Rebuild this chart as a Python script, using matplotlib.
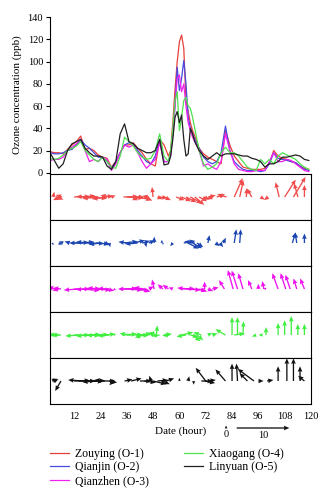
import matplotlib
matplotlib.use("Agg")
import matplotlib.pyplot as plt

plt.rcParams['font.family'] = 'Liberation Serif'
plt.rcParams['font.size'] = 7.5

# ozone, hourly-ish sampling (denser around the peak)
hours = list(range(1, 56, 2)) + list(range(56, 67)) + list(range(67, 120, 2))

zouying = [19, 18, 18, 17, 21, 25, 28, 33, 21, 22, 20, 16, 14, 13, 5, 10, 18, 25, 25, 27, 22, 18, 12, 8, 6, 30, 25, 15,
           20, 45, 75, 100, 118, 124, 112, 65, 55, 45, 38,
           33, 22, 17, 14, 12, 10, 8, 38, 25, 15, 10, 5, 4, 3, 3, 3, 4, 8, 20, 15, 13, 12, 10, 9, 6, 4, 3]
qianjin = [18, 17, 17, 18, 20, 21, 25, 30, 25, 22, 18, 14, 14, 10, 4, 10, 18, 25, 27, 26, 20, 15, 10, 8, 15, 30, 10, 10,
           18, 35, 60, 95, 74, 85, 101, 80, 50, 40, 35,
           30, 22, 14, 10, 8, 10, 18, 42, 20, 10, 6, 3, 2, 2, 2, 1, 2, 8, 18, 13, 12, 11, 10, 9, 6, 3, 2]
qianzhen = [11, 12, 12, 14, 20, 23, 26, 30, 20, 10, 12, 10, 14, 12, 2, 8, 18, 25, 23, 25, 18, 10, 4, 8, 12, 27, 10, 10,
            15, 35, 60, 85, 88, 73, 80, 60, 45, 38, 32,
            28, 20, 6, 8, 5, 3, 10, 35, 20, 8, 3, 2, 1, 1, 2, 2, 2, 10, 18, 10, 10, 12, 11, 8, 5, 2, 1]
xiaogang = [13, 12, 13, 16, 20, 22, 24, 28, 20, 16, 12, 10, 14, 10, 5, 4, 15, 32, 28, 24, 18, 14, 12, 13, 20, 35, 15, 10,
            20, 40, 65, 73, 38, 50, 65, 68, 60, 58, 50,
            40, 20, 8, 3, 5, 8, 18, 23, 18, 18, 15, 10, 5, 3, 2, 12, 8, 12, 8, 15, 18, 16, 14, 12, 8, 5, 3]
linyuan = [18, 11, 4, 8, 20, 26, 28, 30, 22, 18, 15, 15, 14, 6, 3, 10, 35, 44, 28, 26, 22, 20, 18, 18, 20, 30, 7, 8,
           15, 30, 50, 55, 45, 52, 30, 15, 17, 40, 35,
           28, 20, 15, 12, 15, 18, 15, 17, 17, 17, 16, 15, 15, 13, 12, 10, 5, 8, 8, 10, 14, 14, 15, 16, 15, 12, 11]

names = ["Zouying (O-1)", "Qianjin (O-2)", "Qianzhen (O-3)", "Xiaogang (O-4)", "Linyuan (O-5)"]
line_colors = ["#e8403c", "#4a4ae0", "#f020f0", "#50e050", "#202020"]
arrow_colors = ["#f04a4a", "#1a44b0", "#ee10ee", "#40ee40", "#111111"]

# wind vectors (hour, u, v in m/s) per station
h1 = [2.5, 4, 5.5, 6.5, 12, 14, 16, 19, 21, 23, 25, 27, 29, 30, 34.5, 36, 38, 40, 42, 44, 46, 48, 50, 51, 53,
      58.5, 61, 63, 65, 67, 69, 71, 73, 75, 77, 81.5, 85, 87.5, 90.5, 93, 97, 100.5, 105.5, 108, 112, 114, 117]
u1 = [0.2, 1.3, -1.3, -1.2, 3.0, 3.2, 2.8, -2.5, 2.5, -3.0, 2.0, -2.8, 0.8, -2.5, 2.8, 3.2, 2.5, 3.0, -1.5, 1.5, -1.2, -0.2, 1.0, 1.5, 1.3,
      1.6, 1.8, 2.0, 2.2, 1.8, 1.5, 1.2, 1.5, -1.0, 1.6, -1.8, 1.6, 0.7, 0.1, -0.9, 0.8, -0.8, -0.7, 2.1, 2.3, -0.7, 0.0]
v1 = [1.0, -0.5, -0.6, 0.4, 0.1, 0.2, 0.0, 0.1, -0.3, -0.3, 0.2, -0.4, 0.3, 0.3, 0.1, -0.2, 0.0, -0.5, -0.6, -0.7, 0.2, 1.9, -0.4, -0.2, -0.6,
      -0.6, -0.8, -1.0, -1.2, -1.5, -0.8, -0.5, 0.3, -0.4, 0.5, 0.5, 3.6, 3.2, 1.7, 1.6, -0.5, -0.6, 2.8, 3.3, 3.8, 2.6, 2.3]

h2 = [2, 5, 7, 10, 12, 14, 16, 18, 20, 22, 24, 26, 28, 35, 37, 39, 41, 43, 44.5, 46, 48.5, 52, 52.5, 57,
      62, 64, 66, 67, 68, 73, 76.5, 78.5, 80, 85, 87.5, 111.5, 113.5, 117]
u2 = [0.3, 0.6, -0.8, -1.0, 2.8, 3.0, -2.6, 3.2, -3.0, 2.5, -2.2, 1.0, 0.2, 2.5, -2.0, 2.2, -2.4, 1.5, 0.2, 1.2, 0.0, 0.0, 0.0, -0.5,
      2.2, 2.0, 1.8, -2.0, 1.2, 0.3, 0.8, 0.6, 0.5, 0.4, 0.2, 0.6, -0.3, 0.0]
v2 = [-0.4, -0.4, 0.3, 0.3, 0.1, 0.2, 0.0, -0.1, 0.2, -0.2, -0.3, -0.4, -0.8, 0.3, 0.2, 0.5, -0.2, 0.4, -0.8, 0.5, 1.2, 0.6, -0.4, -0.6,
      0.4, -1.1, -1.0, 0.3, -0.8, 1.5, -0.6, -0.8, 1.0, 2.6, 2.6, 2.0, 2.0, 1.8]

h3 = [3, 5, 6, 12, 14, 16, 18, 20, 22, 24, 26, 28, 30, 34, 36, 38, 40, 42, 44, 46, 48.5, 52.5, 55, 57,
      61, 63, 65, 67, 69, 71.5, 73, 75, 80.5, 84.5, 86.5, 89, 93, 96, 98.5, 99.5, 105, 108.5, 110.5, 113.5, 117]
u3 = [-1.2, -1.2, -1.5, 3.0, -2.8, 3.2, 2.5, -3.0, 2.8, -2.5, 1.8, -2.2, 0.5, 2.8, 3.0, -2.5, 2.6, 2.0, -2.0, 1.0, -0.4, -1.0, -1.1, -0.8,
      2.5, 2.8, -2.5, 2.2, 1.5, 0.0, 1.0, 1.2, -1.0, -1.0, -1.1, -0.9, -0.7, 0.0, -0.3, -0.5, -1.1, -1.0, -0.9, -0.6, -0.8]
v3 = [0.5, -0.3, 0.2, 0.0, -0.2, -0.3, 0.1, -0.1, -0.2, 0.2, -0.3, 0.1, -0.2, 0.1, -0.2, 0.0, -0.3, -0.5, 0.3, 0.5, 1.8, 0.9, 0.8, 0.3,
      0.1, -0.2, 0.2, -0.3, -0.5, 1.4, -0.4, 0.3, 1.7, 3.6, 3.5, 3.0, 1.7, 1.0, 1.5, 0.2, 3.0, 3.0, 2.7, 2.0, 2.0]

h4 = [2, 4, 6, 12, 14, 16, 18, 20, 22, 24, 26, 28, 30, 34, 36, 38, 40, 42, 44, 46, 47.5, 48, 49.5, 51, 53, 55,
      61, 63, 65, 66, 68, 70, 73, 75, 81, 84, 85, 86.5, 89, 95, 98, 99.5, 105, 108, 111, 114, 117]
u4 = [1.5, -1.5, -1.8, 3.0, -2.5, 3.2, 2.6, -3.0, 2.4, -2.6, 2.0, -2.2, 0.5, 2.8, 3.0, -2.2, 2.5, 2.2, -1.8, 1.2, 0.2, 0.1, 0.2, -1.5, 1.5, -1.2,
      2.2, -1.8, 1.5, 1.5, 1.2, -1.5, 0.8, 1.0, -1.9, 0.0, 2.0, 0.0, 0.1, -0.8, -0.8, 0.0, 0.0, 0.0, 0.0, 0.0, 0.0]
v4 = [0.0, 0.1, 0.0, 0.0, -0.2, -0.1, 0.1, -0.2, 0.1, -0.1, 0.2, -0.2, 0.1, 0.2, 0.1, 0.3, -0.1, 0.3, -0.5, 0.6, -0.4, 0.8, 1.8, -0.2, 0.2, -0.1,
      0.5, -0.3, -0.4, -1.2, -1.0, 0.5, 0.4, 0.3, 1.1, 3.4, 0.3, 3.4, 2.6, -0.3, 0.0, 1.5, 2.3, 2.8, 3.6, 2.1, 2.1]

h5 = [2, 4, 6, 12, 14, 16, 18, 20, 22, 24, 26, 28, 30, 35, 38, 42, 44, 47, 48, 50, 52, 54, 60, 64, 66.5,
      70, 71.5, 72, 73, 81, 84, 86.5, 91, 94, 96, 100, 105, 109, 112, 115, 117]
u5 = [1.2, -1.0, -1.1, 3.0, 3.2, -2.8, 3.0, 2.5, -2.6, 2.8, -2.0, 1.5, -0.8, 1.5, 2.0, 2.2, 2.2, -0.3, 2.5, 2.0, 1.5, 1.5, 0.0, 0.2, 0.0,
      2.2, 2.0, -1.9, 1.5, -1.9, 0.0, -0.2, -1.5, -3.1, 1.0, 1.2, 0.0, 0.0, 0.0, 0.0, -1.2]
v5 = [0.3, 0.4, -1.9, 0.1, 0.0, 0.2, -0.1, 0.1, -0.2, 0.0, 0.2, -0.3, -0.8, 0.3, 0.5, 0.0, -0.3, 1.0, -0.6, 0.2, -0.6, 0.5, 0.6, 0.9, -0.7,
      0.0, -0.4, 2.5, 0.2, 2.2, 3.3, 3.3, 1.5, 2.3, 0.0, 0.2, 2.8, 4.3, 4.3, 2.8, 1.0]

wind = [(h1, u1, v1), (h2, u2, v2), (h3, u3, v3), (h4, u4, v4), (h5, u5, v5)]
xticks = [12, 24, 36, 48, 60, 72, 84, 96, 108, 120]

fig = plt.figure(figsize=(3.3, 5.0), dpi=100)

# ozone panel
ax = fig.add_axes([0.1515, 0.6546, 0.7909, 0.3108])
series = [zouying, qianjin, qianzhen, xiaogang, linyuan]
for s, c, n in zip(series, line_colors, names):
    ax.plot(hours, s, color=c, lw=0.9, label=n)
ax.set_xlim(1, 120)
ax.set_ylim(0, 140)
ax.set_yticks(range(0, 141, 20))
ax.set_xticks([])
for sp in ['top', 'right', 'bottom']:
    ax.spines[sp].set_visible(False)
ax.spines['left'].set_linewidth(0.8)
ax.tick_params(axis='y', length=3, width=0.8, pad=2, labelsize=7.5)
ax.set_ylabel("Ozone concentration (ppb)", fontsize=8, labelpad=4)

# wind panels
scale = 10 / 24.0
q = None
for i, (hh, uu, vv) in enumerate(wind):
    wax = fig.add_axes([0.1515, 0.652 - 0.092 * (i + 1), 0.7909, 0.092])
    q = wax.quiver(hh, [0] * len(hh), uu, vv, color=arrow_colors[i], angles='uv',
                   scale_units='x', scale=scale, width=0.005, headwidth=3.6,
                   headlength=4.2, headaxislength=3.8)
    wax.set_xlim(1, 120)
    wax.set_ylim(-1, 1)
    wax.set_yticks([])
    for sp in wax.spines.values():
        sp.set_linewidth(0.8)
    if i < 4:
        wax.set_xticks([])
    else:
        wax.set_xticks(xticks)
        wax.tick_params(axis='x', length=0, pad=6, labelsize=7.5)
        wax.set_xlabel("Date (hour)", fontsize=8, labelpad=4)
        wax.quiverkey(q, X=0.797, Y=0.144, U=10, label='10', labelpos='S',
                      coordinates='figure', labelsep=0.03,
                      fontproperties={'family': 'Liberation Serif', 'size': 7.5})
        wax.quiverkey(q, X=0.685, Y=0.146, U=0.6, angle=90, label='0', labelpos='S',
                      coordinates='figure', labelsep=0.03,
                      fontproperties={'family': 'Liberation Serif', 'size': 7.5})

fig.legend(*ax.get_legend_handles_labels(), loc='upper left', bbox_to_anchor=(0.1515, 0.104),
           ncol=2, frameon=False, fontsize=8.5, handlelength=1.6, handletextpad=0.5,
           columnspacing=3.0, labelspacing=0.12, borderpad=0, borderaxespad=0)

fig.savefig("out.png", dpi=100)
